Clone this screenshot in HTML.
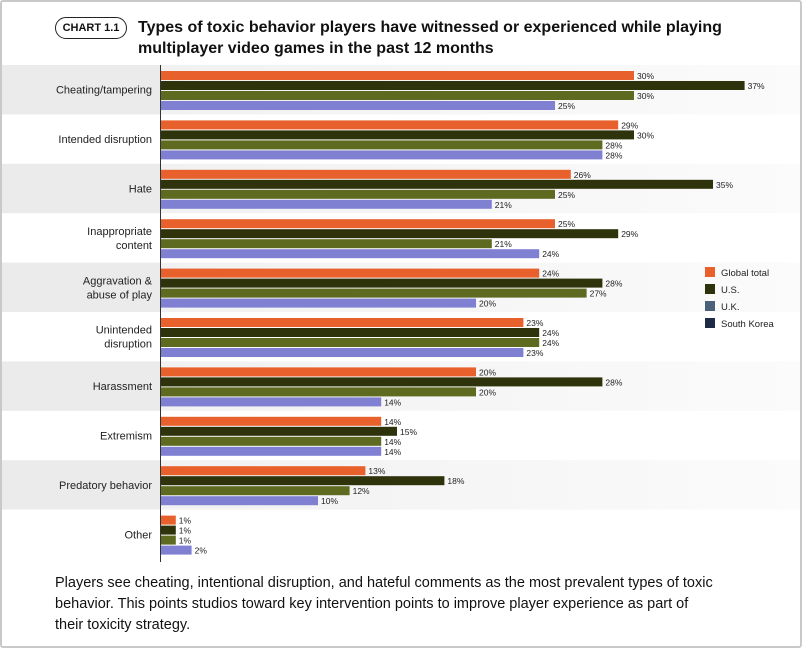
<!DOCTYPE html>
<html><head><meta charset="utf-8"><style>
body{margin:0;background:#fff;font-family:"Liberation Sans",sans-serif;}
#card{position:absolute;left:0;top:0;width:798px;height:644px;border:2px solid #c9c9c9;border-radius:3px;background:#fff;overflow:hidden}
#badge{position:absolute;left:53px;top:15px;width:70px;height:20px;border:1px solid #222;border-radius:11px;font-size:11px;font-weight:bold;text-align:center;line-height:20px;color:#111}
#title{position:absolute;left:136px;top:15px;font-size:16px;font-weight:bold;line-height:21px;color:#111}
#foot{position:absolute;left:53px;top:571px;width:680px;font-size:14.5px;line-height:21px;color:#111}
svg{position:absolute;left:0;top:0}
</style></head><body>
<div id="card">
<div id="badge">CHART 1.1</div>
<div id="title">Types of toxic behavior players have witnessed or experienced while playing<br>multiplayer video games in the past 12 months</div>
<svg id="chart" width="798" height="644"></svg>
<div id="foot">Players see cheating, intentional disruption, and hateful comments as the most prevalent types of toxic<br>behavior. This points studios toward key intervention points to improve player experience as part of<br>their toxicity strategy.</div>
</div>
<script>
const categories=[["Cheating/tampering"],["Intended disruption"],["Hate"],["Inappropriate","content"],["Aggravation &","abuse of play"],["Unintended","disruption"],["Harassment"],["Extremism"],["Predatory behavior"],["Other"]];
const globalTotal=[30,29,26,25,24,23,20,14,13,1];
const us=[37,30,35,29,28,24,28,15,18,1];
const uk=[30,28,25,21,27,24,20,14,12,1];
const southKorea=[25,28,21,24,20,23,14,14,10,2];
const seriesNames=["Global total","U.S.","U.K.","South Korea"];
const barColors=["#e8602c","#2e330c","#5d6a1f","#8080d3"];
const legendColors=["#e8602c","#2e330c","#4b6079","#1f2b46"];
const svg=document.getElementById('chart');const NS="http://www.w3.org/2000/svg";
const x0=158,pxPer=15.8,bandTop=63,bandH=49.4;
const x=v=>x0+v*pxPer;
function mk(t,a){const e=document.createElementNS(NS,t);for(const k in a)e.setAttribute(k,a[k]);svg.appendChild(e);return e;}
const defs=mk('defs',{});defs.innerHTML='<linearGradient id="g" x1="0" x2="1"><stop offset="0" stop-color="#f1f1f1"/><stop offset="1" stop-color="#fbfbfb"/></linearGradient>';
const series=[globalTotal,us,uk,southKorea];
categories.forEach((c,i)=>{
 const y=bandTop+i*bandH;
 if(i%2===0){
  const r1=mk('rect',{x:0,y:y,width:x0,height:bandH,fill:'#ebebeb'});
  
  const r2=mk('rect',{x:x0,y:y,width:640,height:bandH,fill:'url(#g)'});
  
 }
 const cy=y+bandH/2;
 c.forEach((line,j)=>{const t=mk('text',{x:150,y:cy+4+(j-(c.length-1)/2)*14,'text-anchor':'end','font-size':'11',fill:'#222'});t.textContent=line;
  });
 series.forEach((s,k)=>{
  const by=y+6+k*10;
  const b=mk('rect',{x:x0,y:by,width:s[i]*pxPer,height:9,fill:barColors[k]});
  
  
  const t=mk('text',{x:x(s[i])+3,y:by+8,'font-size':'8.5',fill:'#222'});t.textContent=s[i]+'%';
  
 });
});
const ax=mk('line',{x1:x0+0.5,x2:x0+0.5,y1:bandTop,y2:560,stroke:'#333','stroke-width':1});

seriesNames.forEach((n,k)=>{
 const ly=265+k*17;
 const r=mk('rect',{x:703,y:ly,width:10,height:10,fill:legendColors[k]});
 
 const t=mk('text',{x:719,y:ly+9,'font-size':'9.5',fill:'#222'});t.textContent=n;
 
});
</script>
</body></html>
